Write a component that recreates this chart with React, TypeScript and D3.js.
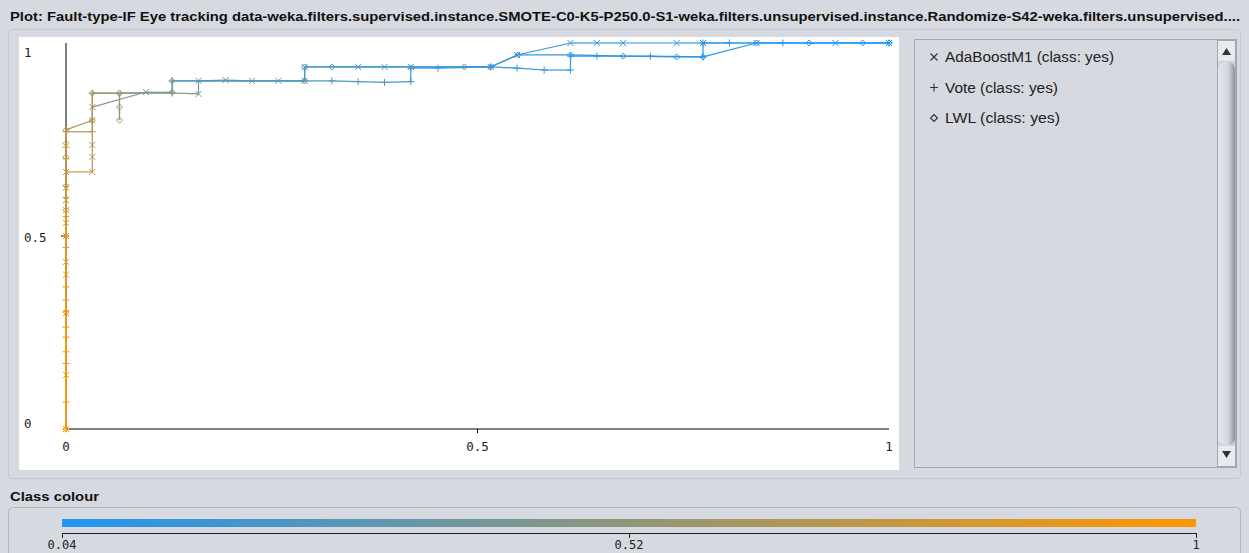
import React from "react";
import * as d3 from "d3";

type Pt = [number, number, number]; // [false positive rate, true positive rate, threshold]

const titleText =
  "Plot: Fault-type-IF Eye tracking data-weka.filters.supervised.instance.SMOTE-C0-K5-P250.0-S1-weka.filters.unsupervised.instance.Randomize-S42-weka.filters.unsupervised....";

const seriesNames = ["AdaBoostM1 (class: yes)", "Vote (class: yes)", "LWL (class: yes)"];
const seriesShapes = ["cross", "plus", "diamond"];

const adaBoostPts: Pt[] = [
  [0, 0, 1.0], [0, 0.14, 0.99], [0, 0.3, 0.97], [0, 0.4, 0.9], [0, 0.433, 0.88],
  [0, 0.5, 0.84], [0, 0.534, 0.82], [0, 0.567, 0.8], [0, 0.593, 0.78], [0, 0.625, 0.76],
  [0, 0.666, 0.74], [0.032, 0.666, 0.72], [0.032, 0.705, 0.7], [0.032, 0.736, 0.68],
  [0.032, 0.8, 0.64], [0.032, 0.834, 0.6], [0.097, 0.873, 0.52], [0.161, 0.868, 0.42],
  [0.161, 0.902, 0.38], [0.194, 0.904, 0.35], [0.226, 0.902, 0.32], [0.258, 0.902, 0.3],
  [0.29, 0.902, 0.28], [0.29, 0.938, 0.24], [0.355, 0.938, 0.22], [0.387, 0.938, 0.2],
  [0.419, 0.938, 0.18], [0.516, 0.938, 0.15], [0.548, 0.969, 0.13], [0.613, 1.0, 0.11],
  [0.645, 1.0, 0.1], [0.677, 1.0, 0.09], [0.742, 1.0, 0.08], [0.774, 1.0, 0.07],
  [0.839, 1.0, 0.06], [0.935, 1.0, 0.05], [1.0, 1.0, 0.04],
];

const votePts: Pt[] = [
  [0, 0, 1.0], [0, 0.07, 0.99], [0, 0.17, 0.98], [0, 0.2, 0.97], [0, 0.238, 0.96],
  [0, 0.264, 0.95], [0, 0.334, 0.93], [0, 0.368, 0.9], [0, 0.47, 0.86], [0, 0.5, 0.84],
  [0, 0.55, 0.81], [0, 0.6, 0.79], [0, 0.7, 0.75], [0, 0.73, 0.73], [0, 0.77, 0.7],
  [0.032, 0.77, 0.67], [0.032, 0.87, 0.58], [0.129, 0.87, 0.46], [0.129, 0.902, 0.4],
  [0.323, 0.902, 0.27], [0.355, 0.9, 0.25], [0.387, 0.898, 0.23], [0.419, 0.9, 0.21],
  [0.419, 0.935, 0.2], [0.452, 0.935, 0.18], [0.516, 0.938, 0.15], [0.548, 0.935, 0.14],
  [0.581, 0.93, 0.13], [0.613, 0.93, 0.12], [0.613, 0.966, 0.11], [0.645, 0.966, 0.1],
  [0.71, 0.966, 0.09], [0.774, 0.964, 0.08], [0.774, 1.0, 0.07], [0.806, 1.0, 0.06],
  [0.871, 1.0, 0.05], [1.0, 1.0, 0.04],
];

const lwlPts: Pt[] = [
  [0, 0, 1.0], [0, 0.303, 0.95], [0, 0.5, 0.86], [0, 0.567, 0.83], [0, 0.63, 0.8],
  [0, 0.705, 0.76], [0, 0.74, 0.73], [0, 0.775, 0.7], [0.032, 0.8, 0.66],
  [0.032, 0.87, 0.6], [0.065, 0.87, 0.57], [0.065, 0.834, 0.56], [0.065, 0.8, 0.55],
  [0.065, 0.87, 0.54], [0.129, 0.873, 0.46], [0.129, 0.902, 0.4], [0.29, 0.902, 0.28],
  [0.29, 0.938, 0.24], [0.323, 0.938, 0.22], [0.484, 0.938, 0.16], [0.516, 0.938, 0.15],
  [0.549, 0.969, 0.13], [0.613, 0.969, 0.11], [0.677, 0.966, 0.1], [0.742, 0.964, 0.09],
  [0.774, 0.964, 0.08], [0.839, 1.0, 0.07], [0.903, 1.0, 0.06], [0.968, 1.0, 0.05],
  [1.0, 1.0, 0.04],
];

const allSeries = [adaBoostPts, votePts, lwlPts];

const axisTicks = [0, 0.5, 1];
const axisTickLabels = ["0", "0.5", "1"];
const colourDomain = [0.04, 1];
const colourTicks = [0.04, 0.52, 1];
const colourTickLabels = ["0.04", "0.52", "1"];
const legendTextWidths = [169, 113, 115];

const BG = "#d6d9df";
const MONO = "'DejaVu Sans Mono', 'Liberation Mono', monospace";
const SANS = "'Liberation Sans', Arial, sans-serif";

function markerPath(shape: string, s: number) {
  if (shape === "cross") return `M${-s},${-s}L${s},${s}M${-s},${s}L${s},${-s}`;
  if (shape === "plus") return `M${-s - 0.5},0H${s + 0.5}M0,${-s - 0.5}V${s + 0.5}`;
  return `M0,${-s}L${s},0L0,${s}L${-s},0Z`;
}

export default function App() {
  const W = 1249;
  const H = 553;
  const x = d3.scaleLinear().domain([0, 1]).range([66, 889]);
  const y = d3.scaleLinear().domain([0, 1]).range([429, 43]);
  const colour = d3
    .scaleLinear<string>()
    .domain(colourDomain)
    .range(["#2196f3", "#ff9800"])
    .interpolate(d3.interpolateRgb);
  const cx = d3.scaleLinear().domain(colourDomain).range([62, 1196]);
  const gradStops = d3.range(0, 1.0001, 0.1).map((t) => colourDomain[0] + t * (colourDomain[1] - colourDomain[0]));

  return (
    <svg
      width={W}
      height={H}
      style={{ position: "absolute", left: 0, top: 0, display: "block" }}
      xmlns="http://www.w3.org/2000/svg"
    >
      <defs>
        <linearGradient id="cbar" x1="0" x2="1" y1="0" y2="0">
          {gradStops.map((v, i) => (
            <stop key={i} offset={`${(i / (gradStops.length - 1)) * 100}%`} stopColor={colour(v)} />
          ))}
        </linearGradient>
        <linearGradient id="thumb" x1="0" x2="1" y1="0" y2="0">
          <stop offset="0%" stopColor="#e4e6ea" />
          <stop offset="60%" stopColor="#d3d6dc" />
          <stop offset="100%" stopColor="#8e939b" />
        </linearGradient>
      </defs>
      <rect x={0} y={0} width={W} height={H} fill={BG} />

      {/* title */}
      <text
        x={10}
        y={21}
        fontFamily={SANS}
        fontWeight="bold"
        fontSize={12.5}
        fill="#111"
        textLength={1230}
        lengthAdjust="spacingAndGlyphs"
      >
        {titleText}
      </text>

      {/* main panel border */}
      <rect x={8.5} y={29.5} width={1232} height={449} rx={3} fill="none" stroke="#c4c8ce" />

      {/* plot area */}
      <rect x={19} y={37} width={880} height={433} fill="#ffffff" />

      {/* axes */}
      <line x1={x(0)} x2={x(0)} y1={y(1)} y2={y(0)} stroke="#000" strokeWidth={1} />
      <line x1={x(0)} x2={x(1)} y1={y(0)} y2={y(0)} stroke="#000" strokeWidth={1} />
      <line x1={x(0) - 5} x2={x(0)} y1={y(0.5)} y2={y(0.5)} stroke="#000" />
      <line x1={x(0.5)} x2={x(0.5)} y1={y(0)} y2={y(0) + 4} stroke="#000" />
      {axisTicks.map((v, i) => (
        <text
          key={"yl" + i}
          x={24}
          y={Math.min(Math.max(y(v) + 2, 53), 424)}
          dy="0.35em"
          fontFamily={MONO}
          fontSize={12.5}
          fill="#222"
        >
          {axisTickLabels[i]}
        </text>
      ))}
      {axisTicks.map((v, i) => (
        <text
          key={"xl" + i}
          x={x(v)}
          y={447}
          dy="0.35em"
          textAnchor="middle"
          fontFamily={MONO}
          fontSize={12.5}
          fill="#222"
        >
          {axisTickLabels[i]}
        </text>
      ))}

      {/* curves */}
      {allSeries.map((pts, si) => (
        <g key={"s" + si}>
          {pts.slice(1).map((p, i) => {
            const q = pts[i];
            return (
              <line
                key={"l" + i}
                x1={x(q[0])}
                y1={y(q[1])}
                x2={x(p[0])}
                y2={y(p[1])}
                stroke={colour(p[2])}
                strokeWidth={1.2}
              />
            );
          })}
          {pts.map((p, i) => (
            <path
              key={"m" + i}
              transform={`translate(${x(p[0])},${y(p[1])})`}
              d={markerPath(seriesShapes[si], 3)}
              fill="none"
              stroke={colour(p[2])}
              strokeWidth={1}
            />
          ))}
        </g>
      ))}

      {/* legend panel */}
      <rect x={914.5} y={39.5} width={322} height={428} fill="#d6d9df" stroke="#a3a8b0" />
      {seriesNames.map((name, i) => (
        <g key={"lg" + i} transform={`translate(934,${57 + i * 30.5})`}>
          <path d={markerPath(seriesShapes[i], 3.5)} fill="none" stroke="#333" strokeWidth={1.1} />
          <text
            x={11}
            y={0}
            dy="0.36em"
            fontFamily={SANS}
            fontSize={14}
            fill="#222"
            textLength={legendTextWidths[i]}
            lengthAdjust="spacingAndGlyphs"
          >
            {name}
          </text>
        </g>
      ))}
      {/* scrollbar */}
      <rect x={1217.5} y={40.5} width={18} height={426} fill="#cfd2d8" stroke="#a3a8b0" />
      <rect x={1218} y={41} width={17} height={20} fill="#e8eaed" />
      <path d="M1222,55 L1226.5,48 L1231,55 Z" fill="#333" />
      <rect x={1218} y={62} width={17} height={383} rx={7} fill="url(#thumb)" />
      <rect x={1218} y={446} width={17} height={20} fill="#e8eaed" />
      <path d="M1222,451 L1231,451 L1226.5,458 Z" fill="#333" />

      {/* class colour */}
      <text x={10} y={497} dy="0.35em" fontFamily={SANS} fontWeight="bold" fontSize={12.5} fill="#111" textLength={89} lengthAdjust="spacingAndGlyphs">
        Class colour
      </text>
      <rect x={8.5} y={507.5} width={1232} height={60} rx={4} fill={BG} stroke="#b3b7be" />
      <rect x={cx(colourDomain[0])} y={519} width={cx(colourDomain[1]) - cx(colourDomain[0])} height={8} fill="url(#cbar)" />
      <line x1={cx(colourDomain[0])} x2={cx(colourDomain[1])} y1={533.5} y2={533.5} stroke="#222" />
      {colourTicks.map((v, i) => (
        <g key={"ct" + i}>
          <line x1={cx(v) + 0.5} x2={cx(v) + 0.5} y1={533} y2={538} stroke="#222" />
          <text x={cx(v)} y={545} dy="0.35em" textAnchor="middle" fontFamily={MONO} fontSize={12} fill="#222">
            {colourTickLabels[i]}
          </text>
        </g>
      ))}
    </svg>
  );
}
